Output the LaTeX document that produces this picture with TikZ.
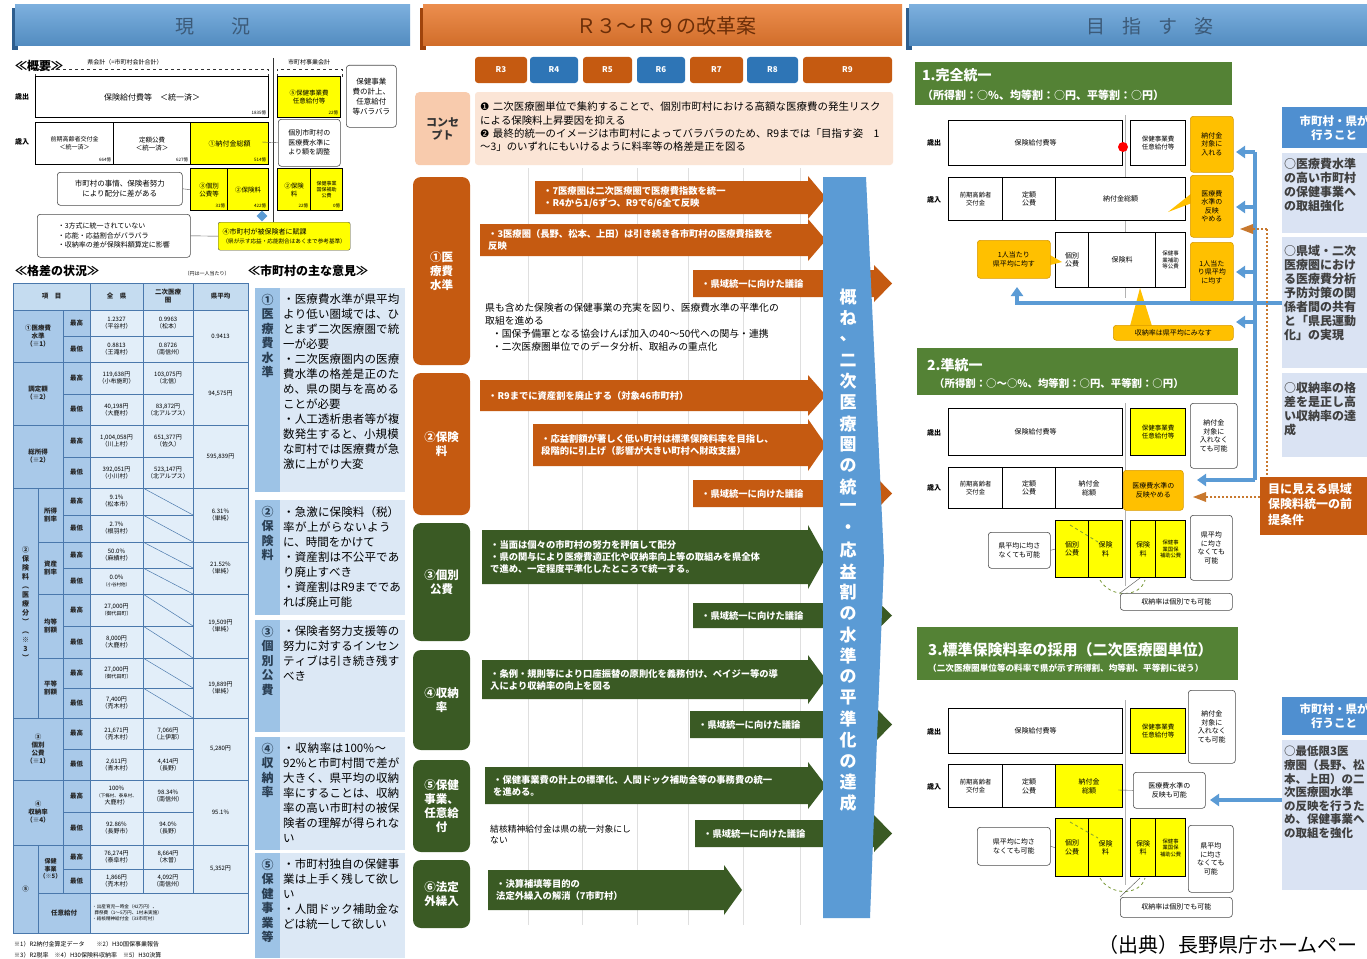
\documentclass[tikz,border=0pt]{standalone}
\usepackage{fontspec}
\setmainfont{Noto Sans CJK JP}
\newfontfamily\djv{DejaVu Sans}
\usetikzlibrary{arrows.meta,shapes.geometric}
\XeTeXlinebreaklocale "ja"
\XeTeXlinebreakskip=0pt plus 1pt
\newcommand\fsz[2]{\fontsize{#1}{#2}\selectfont}
\definecolor{bblue}{HTML}{5B9BD5}
\definecolor{bbluedk}{HTML}{2E5E8E}
\definecolor{tabblue}{HTML}{2E75B6}
\definecolor{orng}{HTML}{E8792E}
\definecolor{orngdk}{HTML}{A0440C}
\definecolor{arrOr}{HTML}{C55A11}
\definecolor{arrGr}{HTML}{3A5A24}
\definecolor{grnH}{HTML}{548235}
\definecolor{ylw}{HTML}{FFFF00}
\definecolor{gold}{HTML}{FFC000}
\definecolor{golddk}{HTML}{D99A00}
\definecolor{peach}{HTML}{FBE5D6}
\definecolor{peach2}{HTML}{F8CBAD}
\definecolor{tblA}{HTML}{A9C9E9}
\definecolor{tblB}{HTML}{C5DCF0}
\definecolor{tblC}{HTML}{E2EEF9}
\definecolor{tblLine}{HTML}{4A78AC}
\definecolor{opL}{HTML}{9DC3E6}
\definecolor{opT}{HTML}{DCE8F5}
\definecolor{rbox}{HTML}{DAE3F3}
\definecolor{hdrblue}{HTML}{4F8FD0}
\definecolor{bantxt}{HTML}{3C5A78}
\definecolor{bantxtO}{HTML}{6B2E08}
\definecolor{dotor}{HTML}{C8782E}
\definecolor{gdashc}{HTML}{7A9A3A}
\tikzset{
  rbx/.style={draw=black,line width=1.2pt,fill=white,inner sep=0.5pt,align=center,font=\fsz{7}{8.5}},
  amt/.style={font=\fsz{4.5}{5},inner sep=0.8pt,anchor=south east},
  call/.style={draw=gray!60!black,line width=0.6pt,rounded corners=3pt,fill=white,inner sep=1.5pt,align=center,font=\fsz{7}{8.5},anchor=north west},
  gcall/.style={call,draw=golddk,fill=gold},
  tln/.style={draw=tblLine,line width=0.5pt},
  tt/.style={font=\fsz{6}{7},align=center,inner sep=0pt},
  tl/.style={font=\fsz{6.5}{8}\bfseries,align=center,inner sep=0pt,text=black!85},
  tab/.style={rounded corners=3pt,text=white,font=\fsz{8}{9}\bfseries,minimum height=26pt,inner sep=0pt},
  rlab/.style={rounded corners=8pt,text=white,font=\fsz{11.5}{14}\bfseries,minimum width=57pt,inner sep=0pt,align=center},
  atxt/.style={font=\fsz{9.3}{12}\bfseries,text=white,align=left,anchor=west,inner sep=0pt},
  barw/.style={draw=bblue,line width=3.2pt},
  btip/.style={-{Triangle[length=9pt,width=12pt]}},
  odot/.style={draw=dotor,line width=2.2pt,dash pattern=on 2pt off 2pt},
  gdash/.style={draw=gdashc,line width=0.8pt,dashed},
  ghd/.style={fill=grnH,anchor=north west,inner sep=0pt},
  lbl/.style={font=\fsz{7}{8}\bfseries,inner sep=0pt},
  bandtxt/.style={font=\fsz{17}{18}\bfseries,text=white,inner sep=0pt},
}
\newcommand\bx[7][]{\node[rbx,minimum width=#5pt,minimum height=#6pt,anchor=north west,#1] (#2) at (#3,#4) {#7};}
% block arrow: name, x1, y1, x2, y2, colour, text width, text
\newcommand\barrow[8]{%
  \fill[#6] (#2,#3) -- (#4-18,#3) -- (#4-18,#3-5) -- (#4,{(#3+#5)/2}) -- (#4-18,#5+5) -- (#4-18,#5) -- (#2,#5) -- cycle;
  \node[atxt,text width=#7pt] (#1) at (#2+8,{(#3+#5)/2}) {#8};}
% opinion box: name, y1, y2, label, body
\newcommand\opbox[5]{%
  \fill[opT] (255,#2) rectangle (405,#3);
  \fill[opL] (255,#2) rectangle (280,#3);
  \node[font=\fsz{12}{14.5}\bfseries,align=center,anchor=north,inner sep=0pt,text=bantxt!70!black] (#1l) at (267.5,#2+6) {#4};
  \node[font=\fsz{11.5}{15},text width=119pt,align=left,anchor=north west,inner sep=0pt] (#1b) at (283,#2+6) {#5};}
\begin{document}
\begin{tikzpicture}[x=1pt,y=-1pt]
\useasboundingbox (0,0) rectangle (1367,958);
\clip (0,0) rectangle (1367,958);
\fill[white] (0,0) rectangle (1367,958);

%================ banners
\fill[bbluedk] (12,8) rectangle (18,50);
\shade[top color=bblue!80!white,bottom color=bblue!90!black] (15,5) rectangle (410,46);
\node[font=\fsz{19}{20},text=bantxt] (banL) at (213,26) {現\hspace{1.9em}況};
\fill[orngdk] (420,8) rectangle (426,50);
\shade[top color=orng!85!white,bottom color=orng!90!black] (423,5) rectangle (902,46);
\node[font=\fsz{20}{21},text=bantxtO] (banM) at (666,26) {Ｒ３～Ｒ９の改革案};
\fill[bbluedk] (906,8) rectangle (912,50);
\shade[top color=bblue!80!white,bottom color=bblue!90!black] (909,5) rectangle (1367,46);
\node[font=\fsz{19}{20},text=bantxt] (banR) at (1150,26) {目\hspace{0.9em}指\hspace{0.9em}す\hspace{0.9em}姿};

%================ LEFT: overview
\node[font=\fsz{12}{13}\bfseries,anchor=west,inner sep=0pt] (gaiyo) at (15,66) {≪概要≫};
\draw[dashed,gray!40!black] (35,77) -- (35,69) -- (268,69) -- (268,77);
\node[font=\fsz{6}{7},fill=white,inner sep=1pt] (kenkai) at (125,62) {県会計（=市町村会計合計）};
\draw[dashed,gray!40!black] (277,77) -- (277,69) -- (342,69) -- (342,77);
\node[font=\fsz{6}{7},fill=white,inner sep=1pt] (shikai) at (309,62) {市町村事業会計};
\draw[gray!40!black,line width=0.8pt] (273,58) -- (273,228);
\node[lbl] (ovS) at (22,97) {歳出};
\node[lbl] (ovN) at (22,142) {歳入};
\bx[font=\fsz{8}{9}]{ovEx}{35}{76}{233}{41}{保険給付費等　＜統一済＞}
\node[amt] (aEx) at (267,116) {1835億};
\bx[fill=ylw,font=\fsz{6.5}{8}]{ovHj}{277}{76}{63}{41}{⑤保健事業費\\任意給付等}
\node[amt] (aHj) at (339,116) {22億};
\node[call,minimum width=50pt,minimum height=62pt,font=\fsz{7.5}{10}] (ovC1) at (346,65) {保健事業\\費の計上、\\任意給付\\等バラバラ};
\bx[font=\fsz{6}{8}]{ovZk}{35}{122}{78}{42}{前期高齢者交付金\\＜統一済＞}
\node[amt] (aZk) at (112,163) {664億};
\bx[font=\fsz{6.5}{8}]{ovTg}{113}{122}{77}{42}{定額公費\\＜統一済＞}
\node[amt] (aTg) at (189,163) {627億};
\bx[fill=ylw,font=\fsz{7}{8}]{ovNf}{190}{122}{78}{42}{①納付金総額}
\node[amt] (aNf) at (267,163) {514億};
\node[call,minimum width=62pt,minimum height=47pt,font=\fsz{7}{9.5}] (ovC2) at (278,119) {個別市町村の\\医療費水準に\\より額を調整};
\bx[fill=ylw,font=\fsz{6.5}{8}]{ovKb}{190}{168}{37}{42}{③個別\\公費等}
\node[amt] (aKb) at (226,209) {31億};
\bx[fill=ylw,font=\fsz{6.5}{8}]{ovHk}{227}{168}{41}{42}{②保険料}
\node[amt] (aHk) at (267,209) {422億};
\bx[fill=ylw,font=\fsz{6.5}{8}]{ovHk2}{277}{168}{33}{42}{②保険\\料}
\node[amt] (aHk2) at (309,209) {22億};
\bx[fill=ylw,font=\fsz{5}{6}]{ovHj2}{310}{168}{32}{42}{保健事業\\国保補助\\公費}
\node[amt] (aHj2) at (341,209) {0億};
\node[call,minimum width=125pt,minimum height=33pt,font=\fsz{7.5}{10}] (ovC3) at (57,172) {市町村の事情、保険者努力\\により配分に差がある};
\draw[gray!60!black] (ovC3.east) -- (ovKb.west);
\node[call,minimum width=153pt,minimum height=43pt,align=left,font=\fsz{7}{9.5}] (ovC4) at (37,214) {・3方式に統一されていない\\・応能・応益割合がバラバラ\\・収納率の差が保険料額算定に影響};
\node[draw=black!70,fill=ylw,rounded corners=2pt,anchor=north west,minimum width=132pt,minimum height=28pt,inner sep=1pt,align=left,font=\fsz{7}{9}] (ovFk) at (218,222) {④市町村が被保険者に賦課\\{\fsz{5.6}{7}（県が示す応益・応能割合はあくまで参考基準）}};
\draw[gray!60!black] (ovC4.east) -- (ovFk.west);
\draw[gray!60!black] (ovC2.west) -- (262,142);
\node[diamond,fill=bblue,minimum size=11pt,inner sep=0pt] (ovDm) at (262,216) {};

%================ LEFT: table
\node[font=\fsz{12}{13}\bfseries,anchor=west,inner sep=0pt] (kakusa) at (15,271) {≪格差の状況≫};
\node[font=\fsz{5}{6},inner sep=0pt] (enha) at (207,274) {（円は一人当たり）};
\node[font=\fsz{12}{13}\bfseries,anchor=west,inner sep=0pt] (iken) at (248,271) {≪市町村の主な意見≫};
\fill[tblC] (13,283) rectangle (248,933);
\fill[tblB] (13,283) rectangle (248,310);
\fill[tblA] (13,310) rectangle (90,933);
\fill[tblC] (90,893) rectangle (248,933);
\foreach \y in {310,362,425,488,718,780,845} \draw[tln] (13,\y) -- (248,\y);
\foreach \y in {542,594,658,893} \draw[tln] (38,\y) -- (248,\y);
\foreach \y in {336,394,457,515,568,626,688,749,812,869} \draw[tln] (63,\y) -- (193,\y);
\draw[tln] (90,283) -- (90,933);
\draw[tln] (143,283) -- (143,893);
\draw[tln] (193,283) -- (193,893);
\draw[tln] (63,310) -- (63,893);
\draw[tln] (38,488) -- (38,718);
\draw[tln] (38,845) -- (38,933);
\foreach \a/\b in {488/515,515/542,542/568,568/594,594/626,626/658,658/688,688/718} \draw[tln] (143,\a) -- (193,\b);
\draw[tblLine,line width=1pt] (13,283) rectangle (248,933);
% header
\node[tl] (tH1) at (51.5,296.5) {項　目};
\node[tl] (tH2) at (116.5,296.5) {全　県};
\node[tl] (tH3) at (168,296.5) {二次医療\\圏};
\node[tl] (tH4) at (220.5,296.5) {県平均};
% item labels
\node[tl] (tI1) at (38,336) {①医療費\\水準\\（※1）};
\node[tl] (tI2) at (38,393.5) {調定額\\（※2）};
\node[tl] (tI3) at (38,456.5) {総所得\\（※2）};
\node[tl,font=\fsz{7}{9}\bfseries] (tI4) at (25.5,603) {②\\保\\険\\料\\︵\\医\\療\\分\\︶\\︵\\※\\3\\︶};
\node[tl] (tI4a) at (50.5,515) {所得\\割率};
\node[tl] (tI4b) at (50.5,568) {資産\\割率};
\node[tl] (tI4c) at (50.5,626) {均等\\割額};
\node[tl] (tI4d) at (50.5,688) {平等\\割額};
\node[tl] (tI5) at (38,749) {③\\個別\\公費\\（※1）};
\node[tl] (tI6) at (38,812.5) {④\\収納率\\（※4）};
\node[tl] (tI7) at (25.5,889) {⑤};
\node[tl,font=\fsz{6}{7.5}\bfseries] (tI7a) at (50.5,869) {保健\\事業\\（※5）};
\node[tl] (tI7b) at (64,913) {任意給付};
\foreach \a/\b in {323/349,378/409.5,441/472.5,501.5/528.5,555/581,610/642,673/703,733.5/764.5,796/828.5,857/881}
  {\node[tl] at (76.5,\a) {最高}; \node[tl] at (76.5,\b) {最低};}
% data
\node[tt] at (116.5,323) {1.2327\\（平谷村）};
\node[tt] at (168,323) {0.9963\\（松本）};
\node[tt] at (116.5,349) {0.8813\\（王滝村）};
\node[tt] at (168,349) {0.8726\\（南信州）};
\node[tt] at (220.5,336) {0.9413};
\node[tt] at (116.5,378) {119,638円\\（小布施町）};
\node[tt] at (168,378) {103,075円\\（北信）};
\node[tt] at (116.5,409.5) {40,198円\\（大鹿村）};
\node[tt] at (168,409.5) {83,872円\\（北アルプス）};
\node[tt] at (220.5,393.5) {94,575円};
\node[tt] at (116.5,441) {1,004,058円\\（川上村）};
\node[tt] at (168,441) {651,377円\\（佐久）};
\node[tt] at (116.5,472.5) {392,051円\\（小川村）};
\node[tt] at (168,472.5) {523,147円\\（北アルプス）};
\node[tt] at (220.5,456.5) {595,839円};
\node[tt] at (116.5,501.5) {9.1\%\\（松本市）};
\node[tt] at (116.5,528.5) {2.7\%\\（根羽村）};
\node[tt] at (220.5,515) {6.31\%\\（単純）};
\node[tt] at (116.5,555) {50.0\%\\（麻績村）};
\node[tt] at (116.5,581) {0.0\%\\\fsz{4.5}{5}（小谷村他）};
\node[tt] at (220.5,568) {21.52\%\\（単純）};
\node[tt] at (116.5,610) {27,000円\\\fsz{5}{6}（御代田町）};
\node[tt] at (116.5,642) {8,000円\\（大鹿村）};
\node[tt] at (220.5,626) {19,509円\\（単純）};
\node[tt] at (116.5,673) {27,000円\\\fsz{5}{6}（御代田町）};
\node[tt] at (116.5,703) {7,400円\\（売木村）};
\node[tt] at (220.5,688) {19,889円\\（単純）};
\node[tt] at (116.5,733.5) {21,671円\\（売木村）};
\node[tt] at (168,733.5) {7,066円\\（上伊那）};
\node[tt] at (116.5,764.5) {2,611円\\（青木村）};
\node[tt] at (168,764.5) {4,414円\\（長野）};
\node[tt] at (220.5,749) {5,280円};
\node[tt] at (116.5,796) {100\%\\\fsz{4.5}{5}（下條村、泰阜村、\\大鹿村）};
\node[tt] at (168,796) {98.34\%\\（南信州）};
\node[tt] at (116.5,828.5) {92.86\%\\（長野市）};
\node[tt] at (168,828.5) {94.0\%\\（長野）};
\node[tt] at (220.5,812.5) {95.1\%};
\node[tt] at (116.5,857) {76,274円\\（泰阜村）};
\node[tt] at (168,857) {8,664円\\（木曽）};
\node[tt] at (116.5,881) {1,866円\\（売木村）};
\node[tt] at (168,881) {4,092円\\（南信州）};
\node[tt] at (220.5,869) {5,352円};
\node[tt,align=left,font=\fsz{4.6}{6},anchor=west] (nini) at (92,913) {・出産育児一時金（42万円）、\\\hspace*{0.5em}葬祭費（1～5万円、1村未実施）\\・結核精神給付金（33市町村）};
\node[font=\fsz{6}{7},anchor=west,inner sep=0pt] (fn1) at (14,944) {※1）R2納付金算定データ　　※2）H30国保事業報告};
\node[font=\fsz{6}{7},anchor=west,inner sep=0pt] (fn2) at (14,955) {※3）R2税率　※4）H30保険料収納率　※5）H30決算};

%================ LEFT: opinions
\opbox{op1}{288}{492}{①\\医\\療\\費\\水\\準}{・医療費水準が県平均より低い圏域では、ひとまず二次医療圏で統一が必要\\・二次医療圏内の医療費水準の格差是正のため、県の関与を高めることが必要\\・人工透析患者等が複数発生すると、小規模な町村では医療費が急激に上がり大変}
\opbox{op2}{500}{615}{②\\保\\険\\料}{・急激に保険料（税）率が上がらないように、時間をかけて\\・資産割は不公平であり廃止すべき\\・資産割はR9までであれば廃止可能}
\opbox{op3}{620}{732}{③\\個\\別\\公\\費}{・保険者努力支援等の努力に対するインセンティブは引き続き残すべき}
\opbox{op4}{737}{850}{④\\収\\納\\率}{・収納率は100\%～92\%と市町村間で差が大きく、県平均の収納率にすることは、収納率の高い市町村の被保険者の理解が得られない}
\opbox{op5}{853}{958}{⑤\\保\\健\\事\\業\\等}{・市町村独自の保健事業は上手く残して欲しい\\・人間ドック補助金などは統一して欲しい}

%================ MIDDLE
\node[tab,fill=arrOr,minimum width=52pt] (yR3) at (501,70) {R3};
\node[tab,fill=tabblue,minimum width=48pt] (yR4) at (554,70) {R4};
\node[tab,fill=arrOr,minimum width=49pt] (yR5) at (607.5,70) {R5};
\node[tab,fill=tabblue,minimum width=48pt] (yR6) at (661,70) {R6};
\node[tab,fill=arrOr,minimum width=53pt] (yR7) at (716.5,70) {R7};
\node[tab,fill=tabblue,minimum width=51pt] (yR8) at (772.5,70) {R8};
\node[tab,fill=arrOr,minimum width=89pt] (yR9) at (847.5,70) {R9};
\node[fill=peach2,rounded corners=4pt,minimum width=55pt,minimum height=73pt,anchor=north west,inner sep=0pt,align=center,font=\fsz{11}{13}\bfseries,text=black!80] (concL) at (415,92) {コンセ\\プト};
\fill[peach,rounded corners=3pt] (475,92) rectangle (893,165);
\node[font=\fsz{10.4}{13.2},text width=402pt,align=left,anchor=north west,inner sep=0pt] (concT) at (480,102) {{\djv ❶}\ 二次医療圏単位で集約することで、個別市町村における高額な医療費の発生リスクによる保険料上昇要因を抑える\\{\djv ❷}\ 最終的統一のイメージは市町村によってバラバラのため、R9までは「目指す姿　1～3」のいずれにもいけるように料率等の格差是正を図る};
\foreach \x in {528,582,637,688,743,800} \draw[gray!25,line width=0.8pt] (\x,168) -- (\x,925);
\node[rlab,fill=arrOr,minimum height=188pt] (rl1) at (441.5,271) {①医\\療費\\水準};
\node[rlab,fill=arrOr,minimum height=142pt] (rl2) at (441.5,444) {②保険\\料};
\node[rlab,fill=arrGr,minimum height=118pt] (rl3) at (441.5,582) {③個別\\公費};
\node[rlab,fill=arrGr,minimum height=100pt] (rl4) at (441.5,700) {④収納\\率};
\node[rlab,fill=arrGr,minimum height=92pt] (rl5) at (441.5,806) {⑤保健\\事業、\\任意給\\付};
\node[rlab,fill=arrGr,minimum height=68pt] (rl6) at (441.5,894) {⑥法定\\外繰入};
\barrow{a1}{535}{181}{826}{214}{arrOr}{270}{・7医療圏は二次医療圏で医療費指数を統一\\・R4から1/6ずつ、R9で6/6全て反映}
\barrow{a2}{480}{224}{826}{256}{arrOr}{325}{・3医療圏（長野、松本、上田）は引き続き各市町村の医療費指数を\\反映}
\barrow{a3}{693}{270}{892}{297}{arrOr}{150}{・県域統一に向けた議論}
\node[font=\fsz{9.8}{13},text width=340pt,align=left,anchor=north west,inner sep=0pt] (mtx1) at (485,303) {県も含めた保険者の保健事業の充実を図り、医療費水準の平準化の\\取組を進める\\\hspace*{0.7em}・国保予備軍となる協会けんぽ加入の40～50代への関与・連携\\\hspace*{0.7em}・二次医療圏単位でのデータ分析、取組みの重点化};
\barrow{a4}{480}{380}{826}{411}{arrOr}{325}{・R9までに資産割を廃止する（対象46市町村）}
\barrow{a5}{533}{424}{826}{466}{arrOr}{275}{・応益割額が著しく低い町村は標準保険料率を目指し、\\段階的に引上げ（影響が大きい町村へ財政支援）}
\barrow{a6}{693}{480}{892}{507}{arrOr}{150}{・県域統一に向けた議論}
\barrow{a7}{482}{530}{826}{584}{arrGr}{325}{・当面は個々の市町村の努力を評価して配分\\・県の関与により医療費適正化や収納率向上等の取組みを県全体\\で進め、一定程度平準化したところで統一する。}
\barrow{a8}{693}{603}{892}{628}{arrGr}{150}{・県域統一に向けた議論}
\barrow{a9}{482}{660}{826}{699}{arrGr}{325}{・条例・規則等により口座振替の原則化を義務付け、ペイジー等の導\\入により収納率の向上を図る}
\barrow{a10}{690}{711}{892}{738}{arrGr}{150}{・県域統一に向けた議論}
\barrow{a11}{485}{767}{826}{804}{arrGr}{325}{・保健事業費の計上の標準化、人間ドック補助金等の事務費の統一\\を進める。}
\node[font=\fsz{8.8}{11},text width=200pt,align=left,anchor=north west,inner sep=0pt] (mtx2) at (490,825) {結核精神給付金は県の統一対象にし\\ない};
\barrow{a12}{695}{820}{892}{847}{arrGr}{150}{・県域統一に向けた議論}
\barrow{a13}{488}{870}{742}{910}{arrGr}{220}{・決算補填等目的の\\法定外繰入の解消（7市町村）}
% big band
\fill[bblue] (823,177) -- (866,177) -- (884,560) -- (870,918) -- (823,918) -- cycle;
\foreach \c [count=\i from 0] in {概,ね,、,二,次,医,療,圏,の,統,一,・,応,益,割,の,水,準,の,平,準,化,の,達,成}
  \node[bandtxt] at (848,{297+\i*21.1}) {\c};

%================ RIGHT: section 1
\node[ghd,minimum width=317pt,minimum height=43pt] (h1) at (915,62) {};
\node[font=\fsz{14}{15}\bfseries,text=white,anchor=west,inner sep=0pt] (h1a) at (922,75) {1.完全統一};
\node[font=\fsz{11}{12}\bfseries,text=white,anchor=west,inner sep=0pt] (h1b) at (922,95) {（所得割：○\%、均等割：○円、平等割：○円）};
\draw[gray!60,line width=1pt] (1125,115) -- (1125,298);
\node[lbl] (d1S) at (934,143) {歳出};
\node[lbl] (d1N) at (934,200) {歳入};
\bx{d1a}{948}{120}{174}{45}{保険給付費等}
\bx[font=\fsz{6.5}{8}]{d1b}{1130}{120}{55}{45}{保健事業費\\任意給付等}
\fill[red] (1123,147) circle (5);
\bx[font=\fsz{6.3}{8}]{d1c}{948}{177}{54}{43}{前期高齢者\\交付金}
\bx{d1d}{1002}{177}{53}{43}{定額\\公費}
\bx{d1e}{1055}{177}{130}{43}{納付金総額}
\bx{d1f}{1055}{232}{33}{55}{個別\\公費}
\bx{d1g}{1088}{232}{67}{55}{保険料}
\bx[font=\fsz{5.5}{6.5}]{d1h}{1155}{232}{30}{55}{保健事\\業補助\\等公費}
\fill[gold] (1192,193) -- (1168,212) -- (1192,203) -- cycle;
\fill[gold] (1050,255) -- (1062,262) -- (1050,265) -- cycle;
\fill[gold] (1130,326) -- (1140,288) -- (1152,326) -- cycle;
\node[gcall,minimum width=43pt,minimum height=56pt] (d1k) at (1190,116) {納付金\\対象に\\入れる};
\node[gcall,minimum width=43pt,minimum height=62pt] (d1l) at (1190,175) {医療費\\水準の\\反映\\やめる};
\node[gcall,minimum width=43pt,minimum height=60pt] (d1m) at (1190,242) {1人当た\\り県平均\\に均す};
\node[gcall,minimum width=73pt,minimum height=38pt] (d1n) at (977,240) {1人当たり\\県平均に均す};
\node[gcall,minimum width=120pt,minimum height=15pt,font=\fsz{7}{8}] (d1o) at (1113,325) {収納率は県平均にみなす};
% right info box 1
\node[fill=hdrblue,text=white,minimum width=104pt,minimum height=41pt,anchor=north west,inner sep=0pt,align=center,font=\fsz{11.5}{14}\bfseries] (rh1) at (1282,107) {市町村・県が\\行うこと};
\fill[rbox] (1282,153) rectangle (1400,233);
\fill[rbox] (1282,237) rectangle (1400,368);
\fill[rbox] (1282,373) rectangle (1400,457);
\node[font=\fsz{12}{14}\bfseries,text=black!75,align=left,anchor=north west,inner sep=0pt] (rt1) at (1284,158) {○医療費水準\\の高い市町村\\の保健事業へ\\の取組強化};
\node[font=\fsz{12}{14}\bfseries,text=black!75,align=left,anchor=north west,inner sep=0pt] (rt2) at (1284,245) {○県域・二次\\医療圏におけ\\る医療費分析\\予防対策の関\\係者間の共有\\と「県民運動\\化」の実現};
\node[font=\fsz{12}{14}\bfseries,text=black!75,align=left,anchor=north west,inner sep=0pt] (rt3) at (1284,382) {○収納率の格\\差を是正し高\\い収納率の達\\成};
% blue connectors
\draw[barw] (1255,152) -- (1255,480);
\foreach \y in {152,207,272,322} \draw[barw,btip] (1255,\y) -- (1236,\y);
\draw[barw,btip] (1255,480) -- (1197,480);
\draw[barw,btip] (1282,303) -- (1017,303) -- (1017,287);
% orange dotted
\draw[odot] (1267,229) -- (1267,477);
\draw[odot] (1267,229) -- (1252,229);
\fill[dotor] (1253,224) -- (1240,229) -- (1253,234) -- cycle;
\draw[odot] (1260,497) -- (1205,497);
\fill[dotor] (1206,492) -- (1193,497) -- (1206,502) -- cycle;
\node[fill=arrOr,text=white,anchor=north west,minimum width=110pt,minimum height=58pt,inner sep=0pt] (goal) at (1260,477) {};
\node[font=\fsz{12}{15.5}\bfseries,text=white,align=left,anchor=north west,inner sep=0pt] (goalT) at (1268,483) {目に見える県域\\保険料統一の前\\提条件};

%================ RIGHT: section 2
\node[ghd,minimum width=321pt,minimum height=47pt] (h2) at (917,348) {};
\node[font=\fsz{14}{15}\bfseries,text=white,anchor=west,inner sep=0pt] (h2a) at (927,365) {2.準統一};
\node[font=\fsz{10.4}{12}\bfseries,text=white,anchor=west,inner sep=0pt] (h2b) at (934,384) {（所得割：○～○\%、均等割：○円、平等割：○円）};
\draw[gray!60,line width=1pt] (1125,403) -- (1125,586);
\node[lbl] (d2S) at (934,433) {歳出};
\node[lbl] (d2N) at (934,488) {歳入};
\bx{d2a}{948}{408}{174}{47}{保険給付費等}
\bx[fill=ylw,font=\fsz{6.5}{8}]{d2b}{1130}{408}{55}{47}{保健事業費\\任意給付等}
\bx[font=\fsz{6.3}{8}]{d2c}{948}{467}{54}{41}{前期高齢者\\交付金}
\bx{d2d}{1002}{467}{53}{41}{定額\\公費}
\bx{d2e}{1055}{467}{67}{41}{納付金\\総額}
\bx[fill=ylw]{d2f}{1055}{520}{33}{57}{個別\\公費}
\bx[fill=ylw]{d2g}{1088}{520}{34}{57}{保険\\料}
\bx[fill=ylw]{d2h}{1130}{520}{25}{57}{保険\\料}
\bx[fill=ylw,font=\fsz{5.3}{6.5}]{d2i}{1155}{520}{30}{57}{保健事\\業国保\\補助公費}
\draw[gdash] (1070,525) -- (1098,542);
\draw[gdash] (1100,580) .. controls (1110,598) and (1140,598) .. (1145,580);
\node[gcall,minimum width=60pt,minimum height=40pt] (d2l) at (1123,470) {医療費水準の\\反映やめる};
\node[call,minimum width=47pt,minimum height=65pt] (d2k) at (1190,403) {納付金\\対象に\\入れなく\\ても可能};
\node[call,minimum width=62pt,minimum height=36pt] (d2n) at (988,532) {県平均に均さ\\なくても可能};
\node[call,minimum width=42pt,minimum height=65pt] (d2m) at (1190,515) {県平均\\に均さ\\なくても\\可能};
\node[call,minimum width=112pt,minimum height=17pt] (d2o) at (1120,593) {収納率は個別でも可能};
\draw[gray!60!black] (d2n.east) -- (d2f.west);
\draw[gray!60!black] (d2o.north west) -- (1140,578);

%================ RIGHT: section 3
\node[ghd,minimum width=321pt,minimum height=53pt] (h3) at (917,627) {};
\node[font=\fsz{15}{16}\bfseries,text=white,anchor=west,inner sep=0pt] (h3a) at (928,650) {3.標準保険料率の採用（二次医療圏単位）};
\node[font=\fsz{8.6}{10}\bfseries,text=white,anchor=west,inner sep=0pt] (h3b) at (928,668) {（二次医療圏単位等の料率で県が示す所得割、均等割、平等割に従う）};
\draw[gray!60,line width=1pt] (1125,700) -- (1125,885);
\node[lbl] (d3S) at (934,732) {歳出};
\node[lbl] (d3N) at (934,787) {歳入};
\bx{d3a}{948}{708}{174}{45}{保険給付費等}
\bx[fill=ylw,font=\fsz{6.5}{8}]{d3b}{1130}{708}{55}{45}{保健事業費\\任意給付等}
\bx[font=\fsz{6.3}{8}]{d3c}{948}{764}{54}{43}{前期高齢者\\交付金}
\bx{d3d}{1002}{764}{53}{43}{定額\\公費}
\bx[fill=ylw]{d3e}{1055}{764}{67}{43}{納付金\\総額}
\bx[fill=ylw]{d3f}{1055}{818}{33}{58}{個別\\公費}
\bx[fill=ylw]{d3g}{1088}{818}{34}{58}{保険\\料}
\bx[fill=ylw]{d3h}{1130}{818}{25}{58}{保険\\料}
\bx[fill=ylw,font=\fsz{5.3}{6.5}]{d3i}{1155}{818}{30}{58}{保健事\\業国保\\補助公費}
\draw[gdash] (1070,822) -- (1098,838);
\draw[gdash] (1100,878) .. controls (1110,896) and (1140,896) .. (1145,878);
\node[call,minimum width=47pt,minimum height=73pt] (d3k) at (1188,690) {納付金\\対象に\\入れなく\\ても可能};
\node[call,minimum width=72pt,minimum height=36pt] (d3l) at (1133,772) {医療費水準の\\反映も可能};
\node[call,minimum width=73pt,minimum height=38pt] (d3n) at (977,827) {県平均に均さ\\なくても可能};
\node[call,minimum width=45pt,minimum height=67pt] (d3m) at (1188,825) {県平均\\に均さ\\なくても\\可能};
\node[call,minimum width=112pt,minimum height=20pt] (d3o) at (1120,897) {収納率は個別でも可能};
\draw[gray!60!black] (d3n.east) -- (d3f.west);
\draw[gray!60!black] (d3l.west) -- (1118,790);
\draw[gray!60!black] (d3o.north west) -- (1140,878);
\draw[barw,btip] (1282,800) -- (1210,800);
\node[fill=hdrblue,text=white,minimum width=104pt,minimum height=38pt,anchor=north west,inner sep=0pt,align=center,font=\fsz{11.5}{14}\bfseries] (rh3) at (1282,697) {市町村・県が\\行うこと};
\fill[rbox] (1282,740) rectangle (1400,890);
\node[font=\fsz{11.5}{13.6}\bfseries,text=black!75,align=left,anchor=north west,inner sep=0pt] (rt4) at (1284,746) {○最低限3医\\療圏（長野、松\\本、上田）の二\\次医療圏水準\\の反映を行うた\\め、保健事業へ\\の取組を強化};

\node[font=\fsz{20}{22},anchor=west,inner sep=0pt] (src) at (1098,945) {（出典）長野県庁ホームペー};
\end{tikzpicture}
\end{document}
